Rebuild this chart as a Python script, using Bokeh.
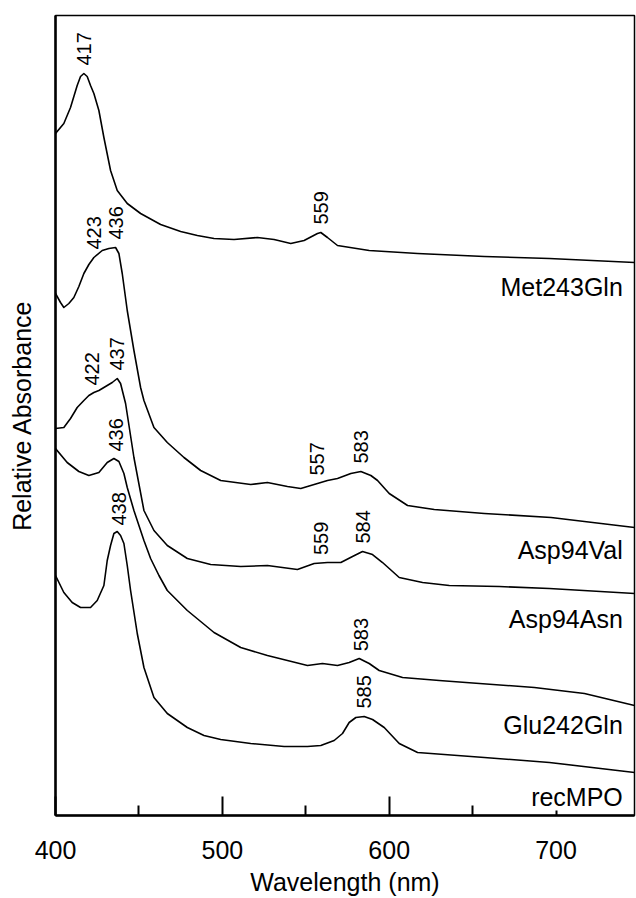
import numpy as np
from bokeh.plotting import figure
from bokeh.models import Range1d, FixedTicker, LabelSet, ColumnDataSource
from bokeh.core.properties import value
from bokeh.embed import file_html
from bokeh.resources import INLINE

FONT = "Liberation Sans"

# ---- data (wavelength nm, relative absorbance, curves offset vertically) ----
met_wl = [400, 405, 409, 413, 415, 417, 419, 421, 423, 426, 429, 433, 437, 443, 451, 463, 475, 485,
          495, 507, 521, 531, 541, 549, 557, 559, 563, 569, 588, 617, 657, 696, 747]
met_y = [6.82, 6.92, 7.08, 7.30, 7.39, 7.42, 7.39, 7.30, 7.22, 7.05, 6.78, 6.45, 6.25, 6.12, 6.02, 5.91,
         5.84, 5.80, 5.77, 5.76, 5.78, 5.76, 5.72, 5.75, 5.82, 5.83, 5.78, 5.70, 5.65, 5.62, 5.59, 5.57, 5.53]
met_peaks = [417, 559]

val_wl = [400, 403, 405, 408, 411, 414, 417, 420, 423, 428, 432, 436, 438, 440, 443, 447, 451, 453,
          459, 467, 477, 487, 499, 517, 527, 539, 547, 557, 563, 569, 577, 583, 589, 593, 600,
          611, 627, 657, 697, 727, 747]
val_y = [5.22, 5.13, 5.08, 5.12, 5.18, 5.29, 5.42, 5.51, 5.58, 5.65, 5.67, 5.68, 5.62, 5.42, 5.05,
         4.65, 4.28, 4.15, 3.88, 3.73, 3.58, 3.45, 3.35, 3.31, 3.33, 3.29, 3.27, 3.32, 3.35, 3.37,
         3.42, 3.44, 3.40, 3.35, 3.22, 3.10, 3.06, 3.02, 2.98, 2.92, 2.88]
val_peaks = [423, 436, 557, 583]

asn_wl = [400, 405, 409, 413, 417, 420, 423, 426, 431, 434, 437, 439, 442, 447, 453, 459, 467, 479,
          493, 511, 527, 545, 555, 563, 571, 578, 584, 590, 596, 606, 620, 636, 666, 696, 747]
asn_y = [3.87, 3.88, 3.97, 4.08, 4.15, 4.20, 4.23, 4.25, 4.30, 4.33, 4.37, 4.32, 4.12, 3.58, 3.05,
         2.85, 2.70, 2.57, 2.51, 2.49, 2.50, 2.46, 2.52, 2.53, 2.53, 2.59, 2.64, 2.61, 2.53, 2.38,
         2.33, 2.30, 2.29, 2.27, 2.22]
asn_peaks = [422, 437, 559, 584]

glu_wl = [400, 407, 414, 420, 426, 431, 435, 438, 441, 443, 447, 453, 457, 462, 467, 479, 495, 511,
          527, 539, 551, 560, 569, 576, 582, 588, 594, 608, 630, 646, 687, 717, 747]
glu_y = [3.67, 3.53, 3.44, 3.40, 3.43, 3.53, 3.57, 3.54, 3.42, 3.28, 3.05, 2.75, 2.57, 2.40, 2.25,
         2.05, 1.83, 1.68, 1.60, 1.55, 1.50, 1.52, 1.50, 1.53, 1.57, 1.52, 1.45, 1.38, 1.35, 1.33,
         1.28, 1.22, 1.10]
glu_peaks = [436, 583]

rec_wl = [400, 405, 410, 415, 421, 425, 429, 431, 433, 435, 437, 439, 441, 443, 445, 449, 453, 459,
          467, 479, 489, 499, 517, 537, 551, 559, 567, 572, 576, 580, 585, 590, 597, 606, 617,
          657, 696, 747]
rec_y = [2.40, 2.23, 2.13, 2.08, 2.08, 2.15, 2.30, 2.55, 2.70, 2.82, 2.84, 2.80, 2.72, 2.50, 2.25,
         1.82, 1.48, 1.18, 1.02, 0.88, 0.80, 0.76, 0.72, 0.69, 0.69, 0.70, 0.75, 0.82, 0.93, 0.98,
         0.99, 0.96, 0.88, 0.72, 0.63, 0.58, 0.53, 0.43]
rec_peaks = [438, 585]

series_names = ["Met243Gln", "Asp94Val", "Asp94Asn", "Glu242Gln", "recMPO"]
x_ticks = [400, 500, 600, 700]
x_minor = [450, 550, 650]

# ---- figure ----
p = figure(width=636, height=898, output_backend="svg", toolbar_location=None,
           x_range=Range1d(400, 747), y_range=Range1d(0, 8),
           min_border_left=55, min_border_top=15, min_border_right=2, min_border_bottom=83)
p.grid.visible = False
p.background_fill_color = "white"
p.border_fill_color = "white"
p.outline_line_color = "black"
p.outline_line_width = 1.5

xa = p.xaxis[0]
xa.ticker = FixedTicker(ticks=x_ticks, minor_ticks=x_minor)
xa.axis_label = "Wavelength (nm)"
xa.axis_label_text_font = FONT
xa.axis_label_text_font_size = "25px"
xa.axis_label_text_font_style = "normal"
xa.axis_label_text_color = "black"
xa.axis_label_standoff = 6
xa.major_label_text_font = FONT
xa.major_label_text_font_size = "25px"
xa.major_label_text_color = "black"
xa.major_label_standoff = 25
xa.axis_line_width = 2.5
xa.axis_line_color = "black"
xa.major_tick_in = 19
xa.major_tick_out = 0
xa.minor_tick_in = 10
xa.minor_tick_out = 0
xa.major_tick_line_width = 2
xa.minor_tick_line_width = 2
xa.major_tick_line_color = "black"
xa.minor_tick_line_color = "black"

ya = p.yaxis[0]
ya.ticker = FixedTicker(ticks=[])
ya.axis_label = "Relative Absorbance"
ya.axis_label_text_font = FONT
ya.axis_label_text_font_size = "25px"
ya.axis_label_text_font_style = "normal"
ya.axis_label_text_color = "black"
ya.axis_label_standoff = 20
ya.major_tick_out = 0
ya.minor_tick_out = 0
ya.major_label_standoff = 0
ya.axis_line_width = 2.5
ya.axis_line_color = "black"

curves = [(met_wl, met_y, met_peaks), (val_wl, val_y, val_peaks), (asn_wl, asn_y, asn_peaks),
          (glu_wl, glu_y, glu_peaks), (rec_wl, rec_y, rec_peaks)]

pk_x, pk_y, pk_t = [], [], []
for wl, y, peaks in curves:
    p.line(wl, y, line_color="black", line_width=1.6, line_join="round")
    for pk in peaks:
        pk_x.append(pk)
        pk_y.append(float(np.interp(pk, wl, y)))
        pk_t.append(str(pk))

p.text(x=pk_x, y=pk_y, text=pk_t, angle=np.pi / 2, text_align="left", text_baseline="middle",
       y_offset=-8, text_font=value(FONT), text_font_size="20px", text_color="black")

# series name labels, right-aligned near the right edge, below each trace's tail
name_x = [740] * 5
name_y = [5.20, 2.57, 1.88, 0.82, 0.10]
names_src = ColumnDataSource(dict(x=name_x, y=name_y, text=series_names))
p.add_layout(LabelSet(x="x", y="y", text="text", source=names_src, text_align="right",
                      text_baseline="alphabetic", text_font=value(FONT),
                      text_font_size=value("25px"), text_color="black",
                      background_fill_color="white"))

open("out.html", "w").write(file_html(p, INLINE))
